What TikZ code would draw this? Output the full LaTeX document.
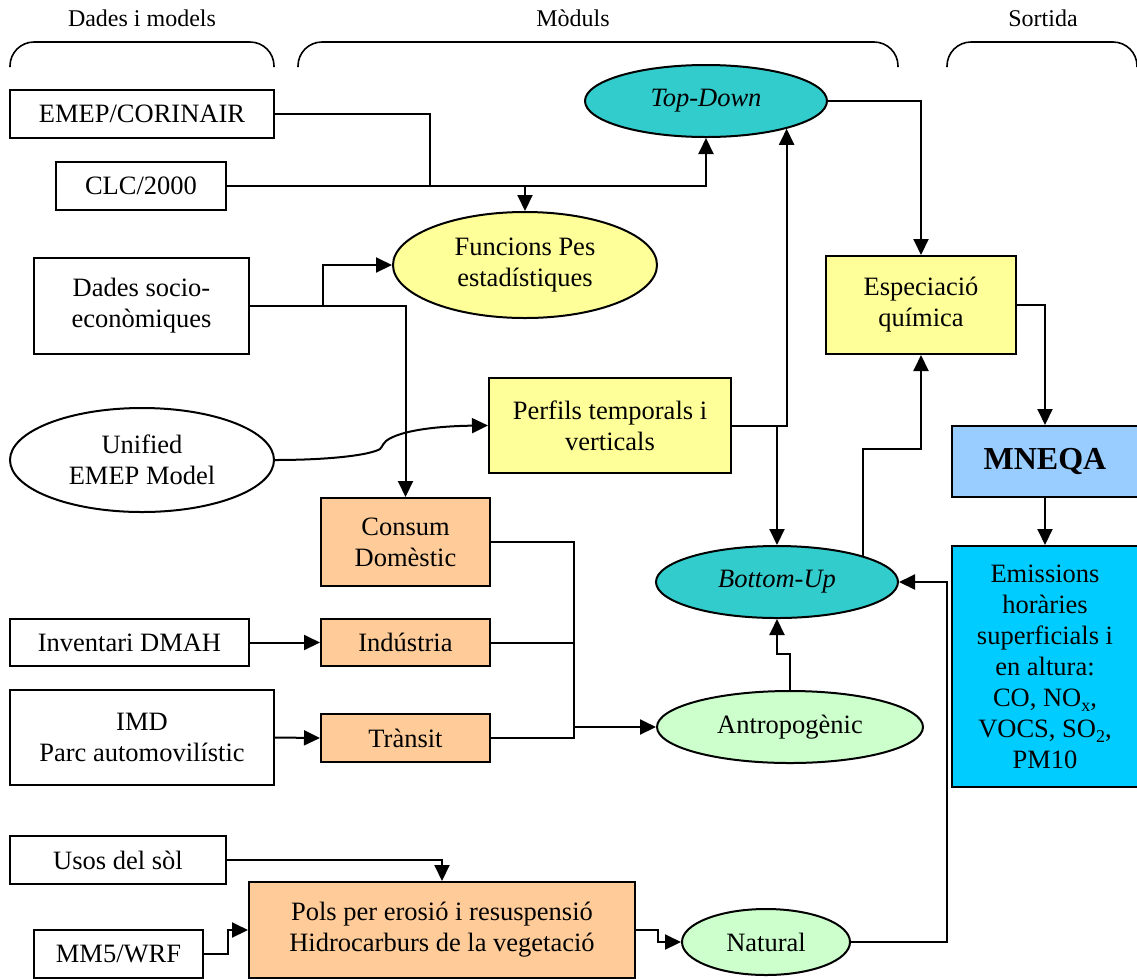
\documentclass[tikz,border=0pt]{standalone}
\usepackage{fontspec}
\setmainfont{Liberation Serif}
\usetikzlibrary{arrows.meta,shapes.geometric}
\definecolor{lightyel}{HTML}{FFFF99}
\definecolor{tdcyan}{HTML}{33CCCC}
\definecolor{mint}{HTML}{CCFFCC}
\definecolor{peach}{HTML}{FFCC99}
\definecolor{skyblue}{HTML}{99CCFF}
\definecolor{brightcyan}{HTML}{00CCFF}
% chemical subscripts in the text font
\newcommand{\chemsub}[1]{\raisebox{-5pt}{\fontsize{18}{18}\selectfont #1}}
\begin{document}
\begin{tikzpicture}[x=1pt,y=-1pt,
  every node/.style={font=\fontsize{26.5}{31}\selectfont, align=center, inner sep=0pt},
  box/.style={draw, rectangle, line width=2pt},
  ell/.style={draw, ellipse, line width=2pt},
  hdr/.style={font=\fontsize{24}{28}\selectfont},
  brace/.style={line width=1.6pt, rounded corners=24pt},
  conn/.style={line width=2pt},
  arr/.style={conn, -{Triangle[length=16pt,width=15pt]}}
]
\useasboundingbox (0,0) rectangle (1137,978);

% column headings and their brackets
\node[hdr] (h1) at (142,18) {Dades i models};
\node[hdr] (h2) at (573,18) {Mòduls};
\node[hdr] (h3) at (1043,18) {Sortida};
\draw[brace] (10,67) -- (10,42) -- (274,42) -- (274,67);
\draw[brace] (298,67) -- (298,42) -- (898,42) -- (898,67);
\draw[brace] (947,67) -- (947,42) -- (1137,42) -- (1137,67);

% input data and models
\node[box, minimum width=264pt, minimum height=48pt] (emep) at (142,114) {EMEP/CORINAIR};
\node[box, minimum width=170pt, minimum height=48pt] (clc) at (141,186) {CLC/2000};
\node[box, minimum width=215pt, minimum height=96pt] (soc) at (141.5,306) {Dades socio-\\econòmiques};
\node[ell, minimum width=264pt, minimum height=104pt] (unif) at (142,460) {Unified\\EMEP Model};
\node[box, minimum width=239pt, minimum height=47pt] (dmah) at (129.5,642.5) {Inventari DMAH};
\node[box, minimum width=264pt, minimum height=95pt] (imd) at (142,737.5) {IMD\\Parc automovilístic};
\node[box, minimum width=216pt, minimum height=48pt] (usos) at (118,860) {Usos del sòl};
\node[box, minimum width=169pt, minimum height=48pt] (mm5) at (118.5,954) {MM5/WRF};

% modules
\node[ell, fill=tdcyan, minimum width=242pt, minimum height=72pt] (topd) at (706,101) {\itshape Top-Down};
\node[ell, fill=lightyel, minimum width=264pt, minimum height=106pt] (func) at (525,265) {Funcions Pes\\estadístiques};
\node[box, fill=lightyel, minimum width=242pt, minimum height=95pt] (perf) at (610,425.5) {Perfils temporals i\\verticals};
\node[box, fill=peach, minimum width=169pt, minimum height=88pt] (cons) at (405.5,542) {Consum\\Domèstic};
\node[box, fill=peach, minimum width=169pt, minimum height=47pt] (indu) at (405.5,642.5) {Indústria};
\node[box, fill=peach, minimum width=169pt, minimum height=48pt] (tran) at (405.5,738) {Trànsit};
\node[ell, fill=tdcyan, minimum width=242pt, minimum height=72pt] (botu) at (777,582) {\itshape Bottom-Up};
\node[ell, fill=mint, minimum width=266pt, minimum height=72pt] (antr) at (790,727) {Antropogènic};
\node[box, fill=peach, minimum width=386pt, minimum height=96pt] (pols) at (442,930) {Pols per erosió i resuspensió\\Hidrocarburs de la vegetació};
\node[ell, fill=mint, minimum width=168pt, minimum height=66pt] (nat) at (766,942) {Natural};
\node[box, fill=lightyel, minimum width=190pt, minimum height=98pt] (esp) at (921,305) {Especiació\\química};

% outputs
\node[box, fill=skyblue, minimum width=186pt, minimum height=71pt, font=\fontsize{32}{36}\selectfont\bfseries] (mneqa) at (1045,461.5) {MNEQA};
\node[box, fill=brightcyan, minimum width=186pt, minimum height=241pt] (emis) at (1045,666.5)
  {Emissions\\horàries\\superficials i\\en altura:\\CO, NO\chemsub{x},\\VOCS, SO\chemsub{2},\\PM10};

% junction points
\coordinate (j1) at (430,186);
\coordinate (jA) at (574,727);
\coordinate (k1) at (380,449);
\coordinate (k2) at (386,441);

% connectors
\draw[conn] (emep.east) -| (j1);
\draw[arr] (clc.east) -| (topd.south);
\draw[arr] (clc.east) -| (func.north);
\draw[arr] (soc.east) -- ++(73,0) |- (func.west);
\draw[arr] (soc.east) -| (cons.north);
\draw[arr] (unif.east) .. controls (330,460) and (370,455) .. (k1)
  .. controls (383,446) and (383,443) .. (k2)
  .. controls (400,430) and (440,426) .. (perf.west);
\draw[arr] (perf.east) -| (topd.-19);
\draw[arr] (perf.east) -| (botu.north);
\draw[arr] (topd.east) -| (esp.north);
\draw[arr] (botu.17) -- ++(0,-107) -| (esp.south);
\draw[arr] (esp.east) -| (mneqa.north);
\draw[arr] (mneqa.south) -- (emis.north);
\draw[arr] (dmah.east) -- (indu.west);
\draw[arr] (imd.east) -- (tran.west);
\draw[conn] (cons.east) -| (jA);
\draw[conn] (indu.east) -- (indu.east -| jA);
\draw[conn] (tran.east) -| (jA);
\draw[arr] (jA) -- (antr.west);
\draw[arr] (antr.north) -- ++(0,-36) -| (botu.south);
\draw[arr] (usos.east) -| (pols.north);
\draw[arr] (mm5.east) -- ++(24,0) |- (pols.west);
\draw[arr] (pols.east) -- ++(22,0) |- (nat.west);
\draw[arr] (nat.east) -- ++(96,0) |- (botu.east);
\end{tikzpicture}
\end{document}
